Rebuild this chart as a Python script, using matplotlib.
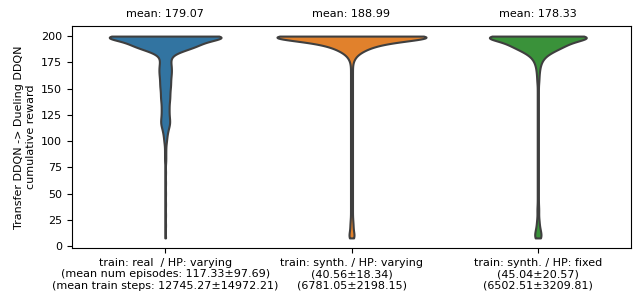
import numpy as np
import matplotlib
matplotlib.use("Agg")
import matplotlib.pyplot as plt

plt.rcParams["font.size"] = 8

# estimated reward samples (value -> count) read off the violin shapes
real_vals = [200, 197, 194, 191, 188, 185, 182, 179, 176, 172, 168, 164, 160, 156, 152, 148, 144,
             140, 136, 132, 128, 124, 120, 116, 112, 108, 104, 100, 95, 90, 85, 80, 70, 60, 50, 40, 30, 20, 8]
real_cnts = [120, 28, 38, 34, 25, 12, 6, 5, 6, 8, 8, 8, 7, 7, 7, 6, 6,
             6, 5, 5, 5, 5, 6, 6, 4, 3, 2, 2, 1, 1, 1, 1, 1, 1, 1, 1, 1, 1, 1]

synth_var_vals = [200, 197, 194, 191, 188, 185, 182, 179, 176, 172, 167, 162, 157, 152, 147, 142, 137,
                  132, 127, 122, 117, 112, 107, 102, 97, 92, 87, 82, 77, 72, 67, 62, 57, 52, 47, 42,
                  37, 32, 27, 23, 20, 17, 14, 11, 8]
synth_var_cnts = [100, 30, 24, 14, 10, 6, 3, 2, 1, 1, 1, 1, 1, 1, 1, 1, 1,
                  1, 1, 1, 1, 1, 1, 1, 1, 1, 1, 1, 1, 1, 1, 1, 1, 1, 1, 1,
                  1, 1, 1, 1, 1, 1, 1, 2, 2]

synth_fix_vals = [200, 197, 194, 191, 188, 185, 182, 179, 176, 173, 170, 167, 163, 158, 153, 148,
                  143, 138, 133, 128, 123, 118, 113, 108, 103, 98, 93, 88, 83, 78, 73, 68, 63, 58,
                  53, 48, 43, 38, 35, 32, 28, 24, 20, 16, 13, 10, 8]
synth_fix_cnts = [105, 34, 34, 30, 22, 15, 9, 6, 4, 3, 2, 2, 2, 2, 1, 1,
                  1, 1, 1, 1, 1, 1, 1, 1, 1, 1, 1, 1, 1, 1, 1, 1, 1, 1,
                  1, 1, 1, 1, 1, 1, 1, 2, 2, 3, 3, 3, 4]

groups = [
    "train: real  / HP: varying\n(mean num episodes: 117.33±97.69)\n(mean train steps: 12745.27±14972.21)",
    "train: synth. / HP: varying\n(40.56±18.34)\n(6781.05±2198.15)",
    "train: synth. / HP: fixed\n(45.04±20.57)\n(6502.51±3209.81)",
]
mean_labels = ["mean: 179.07", "mean: 188.99", "mean: 178.33"]
colors = ["#3274a1", "#e1812c", "#3a923a"]
widths = [0.6, 0.8, 0.52]
bandwidth = 3.5  # reward units

fig = plt.figure(figsize=(6.36, 2.97), dpi=100)
ax = fig.add_axes([72 / 636, 1 - 248 / 297, 559 / 636, 222 / 297])

samples = [np.repeat(real_vals, real_cnts), np.repeat(synth_var_vals, synth_var_cnts),
           np.repeat(synth_fix_vals, synth_fix_cnts)]
for i, data in enumerate(samples):
    data = data.astype(float)
    parts = ax.violinplot(data, positions=[i], widths=widths[i], showextrema=False,
                          points=400, bw_method=lambda k, s=data.std(): bandwidth / s)
    for body in parts["bodies"]:
        body.set_facecolor(colors[i])
        body.set_edgecolor("#3f3f3f")
        body.set_linewidth(1.5)
        body.set_alpha(1)
    ax.text(i, 1.03, mean_labels[i], transform=ax.get_xaxis_transform(),
            ha="center", va="bottom")

ax.set_xlim(-0.5, 2.5)
ax.set_ylim(-1.6, 209.6)
ax.set_xticks(range(3))
ax.set_xticklabels(groups)
ax.set_yticks([0, 25, 50, 75, 100, 125, 150, 175, 200])
ax.set_ylabel("Transfer DDQN -> Dueling DDQN\ncumulative reward")

fig.savefig("out.png", dpi=100)
